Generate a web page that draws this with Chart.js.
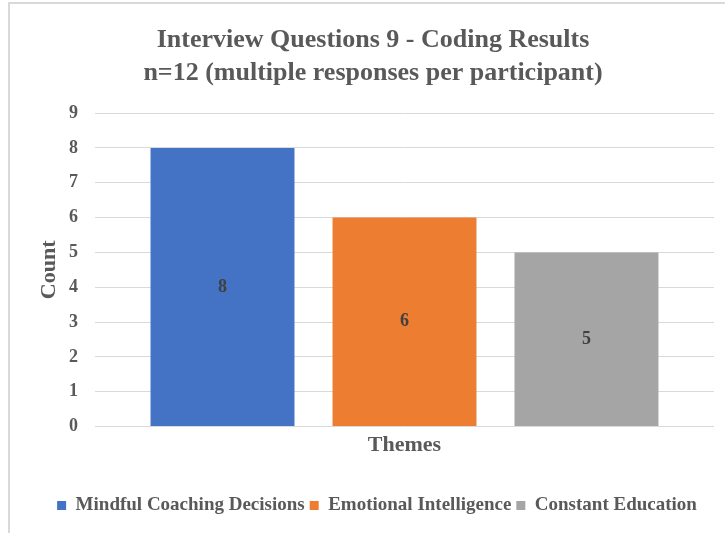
<!DOCTYPE html>
<html>
<head>
<meta charset="utf-8">
<script src="https://cdn.jsdelivr.net/npm/chart.js@4/dist/chart.umd.min.js"></script>
<style>
  html, body { margin: 0; padding: 0; background: #ffffff; }
  #frame {
    position: absolute; left: 8px; top: 2px;
    width: 740px; height: 560px;
    border-top: 2px solid #d9d9d9; border-left: 2px solid #d9d9d9;
  }
  #chart { position: absolute; left: 0; top: 0; }
</style>
</head>
<body>
<div id="frame"><canvas id="chart" width="715" height="529"></canvas></div>
<script>
// Interview question 9: coded themes and how often each came up
const categories = [''];
const themes = ['Mindful Coaching Decisions', 'Emotional Intelligence', 'Constant Education'];
const counts = [8, 6, 5];
const themeColors = ['#4472C4', '#ED7D31', '#A5A5A5'];
const titleLines = ['Interview Questions 9 - Coding Results', 'n=12 (multiple responses per participant)'];
const yTicks = [0, 1, 2, 3, 4, 5, 6, 7, 8, 9];

const SERIF = '"Liberation Serif", "Times New Roman", serif';
const TEXT = '#595959';

// Writes each bar's count in the middle of the bar
const barValueLabels = {
  id: 'barValueLabels',
  afterDatasetsDraw(chart) {
    const ctx = chart.ctx;
    ctx.save();
    ctx.font = 'bold 18px ' + SERIF;
    ctx.fillStyle = '#404040';
    ctx.textAlign = 'center';
    ctx.textBaseline = 'middle';
    chart.data.datasets.forEach((ds, i) => {
      chart.getDatasetMeta(i).data.forEach((bar, j) => {
        ctx.fillText(String(ds.data[j]), bar.x, (bar.y + bar.base) / 2);
      });
    });
    ctx.restore();
  }
};

// Nudges the title and legend a little to the right of the canvas centre
const blockShift = {
  id: 'blockShift',
  afterLayout(chart) {
    const lg = chart.legend;
    if (lg) { lg.left += 15; lg.right += 15; }
    const tb = chart.titleBlock;
    if (tb) { tb.left += 11; tb.right += 11; }
  }
};

new Chart(document.getElementById('chart'), {
  type: 'bar',
  data: {
    labels: categories,
    datasets: themes.map((name, i) => ({
      label: name,
      data: [counts[i]],
      backgroundColor: themeColors[i],
      borderWidth: 0
    }))
  },
  options: {
    responsive: false,
    animation: false,
    categoryPercentage: 0.882,
    barPercentage: 0.791,
    layout: { padding: { left: 0, right: 11, top: 0, bottom: 8 } },
    plugins: {
      title: {
        display: true,
        text: titleLines,
        color: TEXT,
        font: { family: SERIF, size: 26, weight: 'bold', lineHeight: 1.27 },
        padding: { top: 19.5, bottom: 23.5 }
      },
      legend: {
        position: 'bottom',
        labels: {
          color: TEXT,
          font: { family: SERIF, size: 19, weight: 'bold' },
          boxWidth: 9,
          boxHeight: 9,
          padding: 5
        }
      },
      tooltip: { enabled: false }
    },
    scales: {
      x: {
        grid: { display: false },
        border: { display: false },
        ticks: { display: false },
        title: {
          display: true,
          text: 'Themes',
          color: TEXT,
          font: { family: SERIF, size: 22, weight: 'bold' },
          padding: { top: -2, bottom: 32 }
        }
      },
      y: {
        min: 0,
        max: 9,
        afterFit(scale) { scale.width = 85; },
        afterBuildTicks(scale) { scale.ticks = yTicks.map(v => ({ value: v })); },
        grid: { color: '#d9d9d9', lineWidth: 1, drawTicks: false },
        border: { display: false },
        ticks: {
          color: TEXT,
          padding: 17,
          font: { family: SERIF, size: 18, weight: 'bold' }
        },
        title: {
          display: true,
          text: 'Count',
          color: TEXT,
          font: { family: SERIF, size: 22, weight: 'bold' },
          padding: { top: 26, bottom: 0 }
        }
      }
    }
  },
  plugins: [barValueLabels, blockShift]
});
</script>
</body>
</html>
